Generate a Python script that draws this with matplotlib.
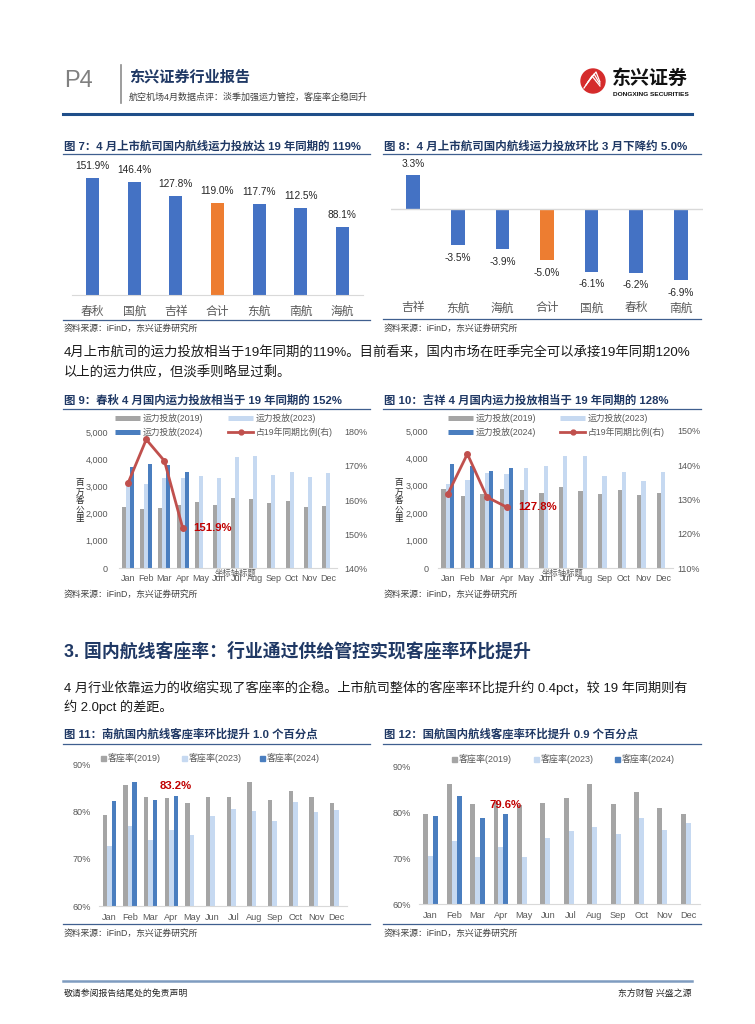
import matplotlib
matplotlib.use('Agg')
import matplotlib.pyplot as plt
from matplotlib.patches import Rectangle, Ellipse
from matplotlib.lines import Line2D
from matplotlib.ticker import FuncFormatter
import numpy as np

plt.rcParams['font.family'] = ['Liberation Sans', 'Noto Sans CJK SC']
plt.rcParams['axes.unicode_minus'] = False

# ---------------- data ----------------
c7_cats = ['春秋', '国航', '吉祥', '合计', '东航', '南航', '海航']
c7_vals = [151.9, 146.4, 127.8, 119.0, 117.7, 112.5, 88.1]
c8_cats = ['吉祥', '东航', '海航', '合计', '国航', '春秋', '南航']
c8_vals = [3.3, -3.5, -3.9, -5.0, -6.1, -6.2, -6.9]
months = ['Jan', 'Feb', 'Mar', 'Apr', 'May', 'Jun', 'Jul', 'Aug', 'Sep', 'Oct', 'Nov', 'Dec']
c9_2019 = [2250, 2160, 2200, 2310, 2410, 2330, 2570, 2530, 2390, 2470, 2260, 2280]
c9_2023 = [3010, 3090, 3320, 3300, 3380, 3300, 4070, 4110, 3410, 3540, 3350, 3490]
c9_2024 = [3720, 3840, 3770, 3540]
c9_ratio = [165.0, 177.8, 171.5, 151.9]
c10_2019 = [2890, 2630, 2700, 2870, 2830, 2720, 2940, 2810, 2700, 2860, 2650, 2750]
c10_2023 = [3050, 3200, 3450, 3440, 3640, 3720, 4080, 4080, 3340, 3490, 3170, 3490]
c10_2024 = [3800, 3740, 3530, 3660]
c10_ratio = [131.6, 143.3, 130.7, 127.8]
c11_2019 = [79.3, 85.6, 83.0, 82.9, 81.8, 83.1, 83.0, 86.2, 82.4, 84.2, 83.0, 81.7]
c11_2023 = [72.7, 76.9, 73.9, 76.0, 75.0, 79.0, 80.5, 80.0, 78.0, 81.9, 79.8, 80.2]
c11_2024 = [82.2, 86.2, 82.3, 83.2]
c12_2019 = [79.7, 86.2, 82.0, 82.4, 81.6, 82.2, 83.2, 86.2, 81.9, 84.5, 81.1, 79.7]
c12_2023 = [70.6, 73.8, 70.3, 72.5, 70.3, 74.4, 76.0, 76.9, 75.3, 78.9, 76.2, 77.8]
c12_2024 = [79.3, 83.7, 78.8, 79.6]
cap_legend = ['运力投放(2019)', '运力投放(2023)', '运力投放(2024)', '占19年同期比例(右)']
lf_legend = ['客座率(2019)', '客座率(2023)', '客座率(2024)']

# ---------------- styles ----------------
W, H = 755, 1024
BLUE = '#4472C4'
ORANGE = '#ED7D31'
GRAY = '#A5A5A5'
LIGHT = '#C6D9F1'
DBLUE = '#4A7EBF'
RED = '#C0504D'
TITLE_C = '#1F3864'
TICK_C = '#595959'
LINE_C = '#3F5F8F'

fig = plt.figure(figsize=(W / 100, H / 100), dpi=100)
renderer = fig.canvas.get_renderer()


def X(x):
    return x / W


def Y(y):
    return 1 - y / H


def rect(x0, y0, x1, y1):
    return [x0 / W, 1 - y1 / H, (x1 - x0) / W, (y1 - y0) / H]


def ftext(x, y, s, size=8, width=None, **kw):
    kw.setdefault('va', 'center')
    kw.setdefault('ha', 'left')
    t = fig.text(X(x), Y(y), s, fontsize=size, **kw)
    if width:
        w = t.get_window_extent(renderer).width
        t.set_fontsize(size * width / w)
    return t


def hline(x0, x1, y, color, lw):
    fig.add_artist(Line2D([X(x0), X(x1)], [Y(y), Y(y)], color=color, lw=lw,
                          transform=fig.transFigure))


# ---------------- header ----------------
ftext(64, 81, 'P4', size=17, color='#808080')
fig.add_artist(Line2D([X(121), X(121)], [Y(65), Y(103)], color='#8C8C8C', lw=1.2,
                      transform=fig.transFigure))
ftext(129, 77, '东兴证券行业报告', size=11, width=121, color=TITLE_C, fontweight='bold')
ftext(129, 97, '航空机场4月数据点评：淡季加强运力管控，客座率企稳回升', size=6.5,
      width=238, color='#404040')
fig.add_artist(Ellipse((X(593), Y(81)), 24 / W, 24 / H, color='#D52B2B',
                       transform=fig.transFigure))
for k in range(3):
    fig.add_artist(Line2D([X(584 + 2 * k), X(592 + 2 * k), X(600)],
                          [Y(88 - 3 * k), Y(76 - 2 * k), Y(86 - 2 * k)],
                          color='white', lw=0.9, transform=fig.transFigure))
ftext(612, 79, '东兴证券', size=12.5, width=76, color='#111111', fontweight='bold')
ftext(613, 94, 'DONGXING SECURITIES', size=4, width=75, color='#111111', fontweight='bold')
hline(63, 692, 114, '#1F4E89', 2.2)

# ---------------- chart titles ----------------
ftext(64, 146, '图 7：4 月上市航司国内航线运力投放达 19 年同期的 119%', size=8.2, width=298,
      color=TITLE_C, fontweight='bold')
ftext(384, 146, '图 8：4 月上市航司国内航线运力投放环比 3 月下降约 5.0%', size=8.2, width=301,
      color=TITLE_C, fontweight='bold')
hline(63, 370, 154, LINE_C, 0.9)
hline(383, 701, 154, LINE_C, 0.9)

# ---------------- chart 7 ----------------
ax7 = fig.add_axes(rect(72, 156, 363, 295))
x7 = np.arange(len(c7_cats))
cols7 = [ORANGE if c == '合计' else BLUE for c in c7_cats]
ax7.bar(x7, c7_vals, 0.31, color=cols7)
for xi, v in zip(x7, c7_vals):
    ax7.annotate(f'{v:.1f}%', (xi, v), xytext=(0, 5), textcoords='offset points',
                 ha='center', va='bottom', fontsize=7.3, color='#262626')
ax7.set_ylim(0, 180)
ax7.set_xlim(-0.5, 6.5)
ax7.set_xticks(x7)
ax7.set_xticklabels(c7_cats, fontsize=8.5, color=TICK_C)
ax7.tick_params(axis='x', length=0, pad=8)
ax7.set_yticks([])
for s in ['left', 'right', 'top']:
    ax7.spines[s].set_visible(False)
ax7.spines['bottom'].set_color('#D9D9D9')

# ---------------- chart 8 ----------------
ax8 = fig.add_axes(rect(391, 156, 703, 292))
x8 = np.arange(len(c8_cats))
cols8 = [ORANGE if c == '合计' else BLUE for c in c8_cats]
ax8.bar(x8, c8_vals, 0.31, color=cols8)
ax8.axhline(0, color='#D9D9D9', lw=1)
for xi, v in zip(x8, c8_vals):
    if v >= 0:
        ax8.annotate(f'{v:.1f}%', (xi, v), xytext=(0, 4), textcoords='offset points',
                     ha='center', va='bottom', fontsize=7.3, color='#262626')
    else:
        ax8.annotate(f'{v:.1f}%', (xi, v), xytext=(0, -5.5), textcoords='offset points',
                     ha='center', va='top', fontsize=7.3, color='#262626')
ax8.set_ylim(-8.06, 5.15)
ax8.set_xlim(-0.5, 6.5)
ax8.set_xticks(x8)
ax8.set_xticklabels(c8_cats, fontsize=8.5, color=TICK_C)
ax8.tick_params(axis='x', length=0, pad=7.5)
ax8.set_yticks([])
for s in ['left', 'right', 'top', 'bottom']:
    ax8.spines[s].set_visible(False)

hline(63, 370, 320, LINE_C, 0.9)
hline(383, 701, 319, LINE_C, 0.9)
ftext(64, 328, '资料来源：iFinD，东兴证券研究所', size=6, width=136, color='#404040')
ftext(384, 328, '资料来源：iFinD，东兴证券研究所', size=6, width=136, color='#404040')

# ---------------- paragraph 1 ----------------
p1 = ftext(64, 353, '4月上市航司的运力投放相当于19年同期的119%。目前看来，国内市场在旺季完全可以承接19年同期120%',
           size=9, width=626, color='#1A1A1A')
ftext(64, 373, '以上的运力供应，但淡季则略显过剩。', size=p1.get_fontsize(), color='#1A1A1A')

# ---------------- charts 9/10 ----------------
ftext(64, 400, '图 9：春秋 4 月国内运力投放相当于 19 年同期的 152%', size=8.2, width=279,
      color=TITLE_C, fontweight='bold')
ftext(384, 400, '图 10：吉祥 4 月国内运力投放相当于 19 年同期的 128%', size=8.2, width=284,
      color=TITLE_C, fontweight='bold')
hline(63, 370, 409, LINE_C, 0.9)
hline(383, 701, 409, LINE_C, 0.9)


def cap_chart(rc, d19, d23, d24, ratio, rlim, lab, lab_off, ylab_x, leg_x, pads):
    ax = fig.add_axes(rect(*rc))
    w = 0.22
    x = np.arange(12)
    ax.bar(x - w, d19, w, color=GRAY)
    ax.bar(x, d23, w, color=LIGHT)
    ax.bar(np.arange(len(d24)) + w, d24, w, color=DBLUE)
    ax.set_xlim(-0.5, 11.5)
    ax.set_ylim(0, 5000)
    ax.set_yticks([0, 1000, 2000, 3000, 4000, 5000])
    ax.yaxis.set_major_formatter(FuncFormatter(lambda v, p: f'{v:,.0f}'))
    ax.set_xticks(x)
    ax.set_xticklabels(months)
    ax.tick_params(axis='both', length=0, labelsize=6.5, labelcolor=TICK_C)
    ax.tick_params(axis='y', pad=pads[0])
    ax.tick_params(axis='x', pad=4)
    for s in ['left', 'right', 'top']:
        ax.spines[s].set_visible(False)
    ax.spines['bottom'].set_color('#D9D9D9')
    ax2 = ax.twinx()
    ax2.plot(np.arange(len(ratio)), ratio, color=RED, lw=2, marker='o', ms=4)
    ax2.set_ylim(*rlim)
    ax2.set_yticks(np.arange(rlim[0], rlim[1] + 1, 10))
    ax2.yaxis.set_major_formatter(FuncFormatter(lambda v, p: f'{v:.0f}%'))
    ax2.tick_params(axis='y', length=0, labelsize=6.5, labelcolor=TICK_C, pad=pads[1])
    for s in ['left', 'right', 'top', 'bottom']:
        ax2.spines[s].set_visible(False)
    ax2.annotate(lab, (len(ratio) - 1, ratio[-1]), xytext=(lab_off, 0),
                 textcoords='offset points', ha='left', va='center', fontsize=8.2,
                 color='#C00000', fontweight='bold')
    # y label (stacked)
    ftext(ylab_x, 501, '\n'.join('百万客公里'), size=6.2, ha='center', linespacing=1.0,
          color='#262626')
    # placeholder axis title
    ftext(rc[0] + (rc[2] - rc[0]) * 0.45 - 2, 574, '坐标轴标题', size=6, color=TICK_C)
    # legend
    lx0, lx1 = leg_x
    rows = [(418, GRAY, lx0, cap_legend[0]), (418, LIGHT, lx1, cap_legend[1]),
            (432, DBLUE, lx0, cap_legend[2])]
    for yy, col, xx, t in rows:
        fig.add_artist(Line2D([X(xx), X(xx + 25)], [Y(yy), Y(yy)], color=col, lw=3.6,
                              solid_capstyle='butt', transform=fig.transFigure))
        ftext(xx + 28, yy, t, size=6.3, color=TICK_C)
    fig.add_artist(Line2D([X(lx1), X(lx1 + 12.5), X(lx1 + 25)], [Y(432)] * 3, color=RED,
                          lw=2, marker='o', ms=3.5, markevery=[1], transform=fig.transFigure))
    ftext(lx1 + 28, 432, cap_legend[3], size=6.3, color=TICK_C)
    return ax


cap_chart((119, 432, 337, 568), c9_2019, c9_2023, c9_2024, c9_ratio, (140, 180),
          '151.9%', 8, 80, (115, 228), (8, 5))
cap_chart((438, 431, 673, 568), c10_2019, c10_2023, c10_2024, c10_ratio, (110, 150),
          '127.8%', 8.5, 399, (448, 560), (7, 3))

ftext(64, 594, '资料来源：iFinD，东兴证券研究所', size=6, width=136, color='#404040')
ftext(384, 594, '资料来源：iFinD，东兴证券研究所', size=6, width=136, color='#404040')

# ---------------- section 3 ----------------
ftext(64, 651, '3. 国内航线客座率：行业通过供给管控实现客座率环比提升', size=12.5, width=467,
      color=TITLE_C, fontweight='bold')
p2 = ftext(64, 688, '4 月行业依靠运力的收缩实现了客座率的企稳。上市航司整体的客座率环比提升约 0.4pct，较 19 年同期则有',
           size=9, width=626, color='#1A1A1A')
ftext(64, 707, '约 2.0pct 的差距。', size=p2.get_fontsize(), color='#1A1A1A')

# ---------------- charts 11/12 ----------------
ftext(64, 734, '图 11：南航国内航线客座率环比提升 1.0 个百分点', size=8.2, width=253,
      color=TITLE_C, fontweight='bold')
ftext(384, 734, '图 12：国航国内航线客座率环比提升 0.9 个百分点', size=8.2, width=253,
      color=TITLE_C, fontweight='bold')
hline(63, 370, 744, LINE_C, 0.9)
hline(383, 701, 744, LINE_C, 0.9)


def lf_chart(rc, d19, d23, d24, lab, leg_pos):
    ax = fig.add_axes(rect(*rc))
    w = 0.21
    x = np.arange(12)
    ax.bar(x - w, d19, w, color=GRAY)
    ax.bar(x, d23, w, color=LIGHT)
    ax.bar(np.arange(len(d24)) + w, d24, w, color=DBLUE)
    ax.set_xlim(-0.5, 11.5)
    ax.set_ylim(60, 90)
    ax.set_yticks([60, 70, 80, 90])
    ax.yaxis.set_major_formatter(FuncFormatter(lambda v, p: f'{v:.0f}%'))
    ax.set_xticks(x)
    ax.set_xticklabels(months)
    ax.tick_params(axis='both', length=0, labelsize=6.6, labelcolor=TICK_C)
    ax.tick_params(axis='y', pad=6)
    ax.tick_params(axis='x', pad=5)
    for s in ['left', 'right', 'top']:
        ax.spines[s].set_visible(False)
    ax.spines['bottom'].set_color('#D9D9D9')
    ax.annotate(lab, (len(d24) - 1 + w, d24[-1]), xytext=(0, 3.5), textcoords='offset points',
                ha='center', va='bottom', fontsize=8.2, color='#C00000', fontweight='bold')
    ly = leg_pos[0]
    for xx, col, t in zip(leg_pos[1:], [GRAY, LIGHT, DBLUE], lf_legend):
        fig.add_artist(Rectangle((X(xx - 2.5), Y(ly + 2.5)), 5 / W, 5 / H, color=col,
                                 transform=fig.transFigure))
        ftext(xx + 4.5, ly, t, size=6.5, color=TICK_C)
    return ax


lf_chart((99, 764, 347, 906), c11_2019, c11_2023, c11_2024, '83.2%', (758, 103, 184, 262))
lf_chart((419, 767, 700, 904), c12_2019, c12_2023, c12_2024, '79.6%', (759, 454, 536, 617))

hline(63, 370, 924, LINE_C, 0.9)
hline(383, 701, 924, LINE_C, 0.9)
ftext(64, 933, '资料来源：iFinD，东兴证券研究所', size=6, width=136, color='#404040')
ftext(384, 933, '资料来源：iFinD，东兴证券研究所', size=6, width=136, color='#404040')

# ---------------- footer ----------------
hline(63, 692, 981, '#7F9CC0', 1.8)
ftext(64, 993, '敬请参阅报告结尾处的免责声明', size=6, width=125, color='#262626')
ftext(692, 993, '东方财智 兴盛之源', size=6, width=74, color='#262626', ha='right')

fig.savefig('out.png', dpi=100)
